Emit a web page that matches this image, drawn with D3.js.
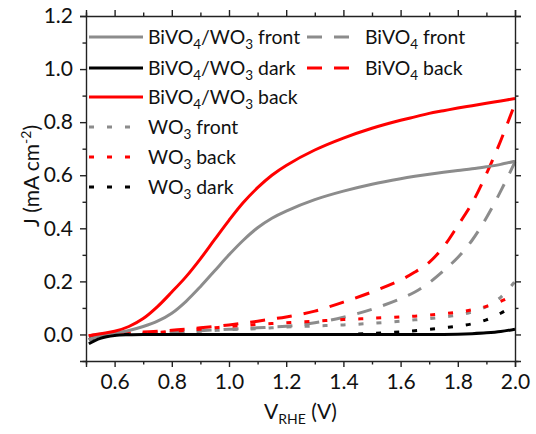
<!DOCTYPE html>
<html>
<head>
<meta charset="utf-8">
<script src="https://cdn.jsdelivr.net/npm/d3@7"></script>
<style>
  body { margin: 0; background: #fff; }
  text { font-family: Lato, "Open Sans", sans-serif; fill: #111; }
  .axis path, .axis line { stroke: #222; stroke-width: 1.4; }
</style>
</head>
<body>
<div id="chart"></div>
<script>
// potential (V vs RHE), shared by every curve
const voltage = [0.51, 0.55, 0.6, 0.65, 0.7, 0.75, 0.8, 0.85, 0.9, 0.95, 1.0, 1.05, 1.1, 1.15, 1.2,
  1.3, 1.4, 1.5, 1.6, 1.65, 1.7, 1.75, 1.8, 1.85, 1.9, 1.95, 2.0];

// current density (mA cm-2)
const bwFront = [-0.02, -0.004, 0.005, 0.015, 0.03, 0.05, 0.08, 0.125, 0.18, 0.24, 0.3, 0.355, 0.402, 0.438, 0.465,
  0.508, 0.54, 0.566, 0.587, 0.596, 0.604, 0.611, 0.618, 0.624, 0.632, 0.641, 0.653];
const bwDark = [-0.035, -0.015, -0.004, -0.001, 0, 0, 0, 0, 0, 0, 0, 0, 0, 0, 0,
  0, 0, 0, 0, 0, 0, 0, 0.001, 0.003, 0.006, 0.011, 0.02];
const bwBack = [-0.005, 0.003, 0.012, 0.03, 0.06, 0.105, 0.16, 0.218, 0.285, 0.358, 0.43, 0.497, 0.553, 0.6, 0.637,
  0.695, 0.74, 0.777, 0.807, 0.82, 0.833, 0.843, 0.853, 0.862, 0.871, 0.88, 0.889];
const wFront = [-0.008, -0.002, 0, 0.002, 0.004, 0.006, 0.008, 0.01, 0.012, 0.015, 0.018, 0.02, 0.022, 0.025, 0.028,
  0.032, 0.036, 0.042, 0.05, 0.055, 0.06, 0.066, 0.073, 0.085, 0.105, 0.14, 0.2];
const wBack = [-0.005, 0, 0.002, 0.004, 0.006, 0.008, 0.012, 0.016, 0.02, 0.025, 0.03, 0.034, 0.038, 0.041, 0.044,
  0.05, 0.056, 0.061, 0.066, 0.069, 0.073, 0.078, 0.084, 0.093, 0.106, 0.125, 0.15];
const wDark = [-0.02, -0.006, -0.002, 0, 0, 0, 0, 0, 0, 0, 0, 0, 0, 0, 0,
  0, 0, 0.004, 0.01, 0.014, 0.019, 0.025, 0.031, 0.04, 0.055, 0.08, 0.11];
const bFront = [-0.01, -0.003, 0, 0.002, 0.004, 0.006, 0.008, 0.011, 0.014, 0.017, 0.02, 0.022, 0.025, 0.028, 0.031,
  0.044, 0.065, 0.095, 0.135, 0.16, 0.195, 0.24, 0.29, 0.355, 0.44, 0.54, 0.65];
const bBack = [-0.005, 0, 0.003, 0.006, 0.009, 0.012, 0.016, 0.02, 0.025, 0.03, 0.036, 0.043, 0.05, 0.058, 0.066,
  0.088, 0.122, 0.16, 0.205, 0.235, 0.272, 0.33, 0.41, 0.495, 0.605, 0.73, 0.87];

const xTicks = [0.6, 0.8, 1.0, 1.2, 1.4, 1.6, 1.8, 2.0];
const xMinor = [0.5, 0.7, 0.9, 1.1, 1.3, 1.5, 1.7, 1.9];
const yTicks = [0.0, 0.2, 0.4, 0.6, 0.8, 1.0, 1.2];
const yMinor = [-0.1, 0.1, 0.3, 0.5, 0.7, 0.9, 1.1];

const series = [
  { name: ["BiVO", "4", " front"], values: bFront, color: "#8c8c8c", dash: "15,12" },
  { name: ["BiVO", "4", " back"], values: bBack, color: "#ff0000", dash: "15,12" },
  { name: ["WO", "3", " front"], values: wFront, color: "#8c8c8c", dash: "5,13" },
  { name: ["WO", "3", " back"], values: wBack, color: "#ff0000", dash: "5,13" },
  { name: ["WO", "3", " dark"], values: wDark, color: "#000000", dash: "5,13" },
  { name: ["BiVO", "4", "/WO", "3", " front"], values: bwFront, color: "#8c8c8c", dash: null },
  { name: ["BiVO", "4", "/WO", "3", " back"], values: bwBack, color: "#ff0000", dash: null },
  { name: ["BiVO", "4", "/WO", "3", " dark"], values: bwDark, color: "#000000", dash: null }
];

const width = 536, height = 434;
const margin = { left: 86, right: 21, top: 16, bottom: 73 };

const svg = d3.select("#chart").append("svg")
  .attr("width", width)
  .attr("height", height);

const x = d3.scaleLinear().domain([0.5, 2.0]).range([margin.left, width - margin.right]);
const y = d3.scaleLinear().domain([-0.1, 1.2]).range([height - margin.bottom, margin.top]);

const line = d3.line()
  .x((d, i) => x(voltage[i]))
  .y(d => y(d))
  .curve(d3.curveCatmullRom.alpha(0.5));

svg.append("g").selectAll("path")
  .data(series)
  .enter().append("path")
  .attr("d", d => line(d.values))
  .attr("fill", "none")
  .attr("stroke", d => d.color)
  .attr("stroke-width", 3)
  .attr("stroke-dasharray", d => d.dash);

// axes: major ticks with labels, minor ticks without, all pointing out
const fmt = d3.format(".1f");
const bottom = height - margin.bottom, right = width - margin.right;

svg.append("g").attr("class", "axis").attr("transform", `translate(0,${bottom})`)
  .call(d3.axisBottom(x).tickValues(xTicks).tickFormat(fmt).tickSize(6).tickPadding(7))
  .selectAll("text").style("font-size", "21px");
svg.append("g").attr("class", "axis").attr("transform", `translate(0,${bottom})`)
  .call(d3.axisBottom(x).tickValues(xMinor).tickFormat("").tickSize(3.5))
  .select(".domain").remove();

svg.append("g").attr("class", "axis").attr("transform", `translate(0,${margin.top})`)
  .call(d3.axisTop(x).tickValues(xTicks).tickFormat("").tickSize(6));
svg.append("g").attr("class", "axis").attr("transform", `translate(0,${margin.top})`)
  .call(d3.axisTop(x).tickValues(xMinor).tickFormat("").tickSize(3.5))
  .select(".domain").remove();

svg.append("g").attr("class", "axis").attr("transform", `translate(${margin.left},0)`)
  .call(d3.axisLeft(y).tickValues(yTicks).tickFormat(fmt).tickSize(6).tickPadding(7))
  .selectAll("text").style("font-size", "21px");
svg.append("g").attr("class", "axis").attr("transform", `translate(${margin.left},0)`)
  .call(d3.axisLeft(y).tickValues(yMinor).tickFormat("").tickSize(3.5))
  .select(".domain").remove();

svg.append("g").attr("class", "axis").attr("transform", `translate(${right},0)`)
  .call(d3.axisRight(y).tickValues(yTicks).tickFormat("").tickSize(6));
svg.append("g").attr("class", "axis").attr("transform", `translate(${right},0)`)
  .call(d3.axisRight(y).tickValues(yMinor).tickFormat("").tickSize(3.5))
  .select(".domain").remove();

svg.selectAll(".axis text").style("fill", "#111").style("font-family", "Lato, sans-serif");

// axis titles
const xt = svg.append("text")
  .attr("x", (margin.left + right) / 2)
  .attr("y", 419)
  .attr("text-anchor", "middle")
  .style("font-size", "21px");
xt.append("tspan").text("V");
xt.append("tspan").text("RHE").style("font-size", "14px").attr("dy", 5);
xt.append("tspan").text(" (V)").attr("dy", -5);

const yt = svg.append("text")
  .attr("transform", "translate(39,176) rotate(-90)")
  .attr("text-anchor", "middle")
  .style("font-size", "21px");
yt.append("tspan").text("J (mA cm");
yt.append("tspan").text("-2").style("font-size", "14px").attr("dy", -8);
yt.append("tspan").text(")").attr("dy", 8);

// legend
const legendItems = [
  { s: series[5], lx: 89, ly: 37, len: 54 },
  { s: series[7], lx: 89, ly: 68, len: 54 },
  { s: series[6], lx: 89, ly: 97, len: 54 },
  { s: series[2], lx: 89, ly: 127, len: 44 },
  { s: series[3], lx: 89, ly: 157, len: 44 },
  { s: series[4], lx: 89, ly: 187, len: 44 },
  { s: series[0], lx: 307, ly: 37, len: 48 },
  { s: series[1], lx: 307, ly: 68, len: 48 }
];

const lg = svg.append("g").selectAll("g")
  .data(legendItems)
  .enter().append("g")
  .attr("transform", d => `translate(${d.lx},${d.ly})`);

lg.append("line")
  .attr("x1", 0).attr("x2", d => d.len)
  .attr("stroke", d => d.s.color)
  .attr("stroke-width", 3)
  .attr("stroke-dasharray", d => d.s.dash);

lg.each(function(d) {
  const t = d3.select(this).append("text")
    .attr("x", d.lx < 200 ? 59 : 58)
    .attr("y", 7)
    .style("font-size", "19.4px");
  d.s.name.forEach((part, i) => {
    const sub = i % 2 === 1;
    t.append("tspan")
      .text(part)
      .style("font-size", sub ? "13.5px" : null)
      .attr("dy", i === 0 ? 0 : (sub ? 5 : -5));
  });
});
</script>
</body>
</html>
